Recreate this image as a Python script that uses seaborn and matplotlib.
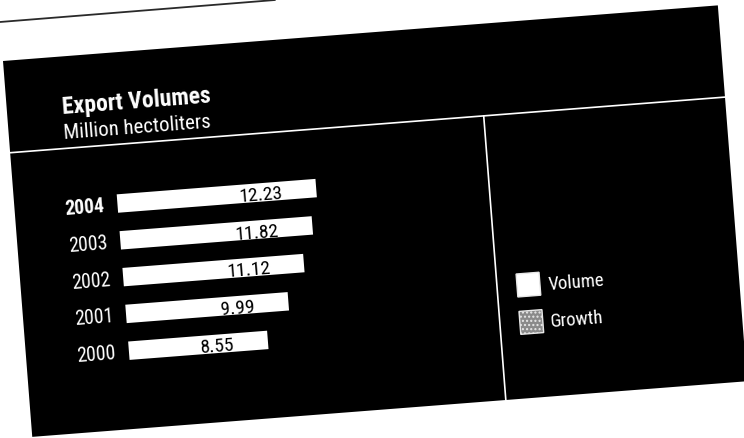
import matplotlib
matplotlib.use("Agg")
import pandas as pd
import matplotlib.pyplot as plt
from matplotlib.patches import Rectangle
from matplotlib.lines import Line2D
from matplotlib.transforms import Affine2D
import seaborn as sns

# data
years = ["2004", "2003", "2002", "2001", "2000"]
volumes = [12.23, 11.82, 11.12, 9.99, 8.55]
legend_labels = ["Volume", "Growth"]
legend_colors = ["white", "#8a8a8a"]
title = "Export Volumes"
subtitle = "Million hectoliters"

sns.set_theme(style="white")
plt.rcParams["font.family"] = ["Roboto Condensed", "Liberation Sans Narrow", "Roboto", "DejaVu Sans"]

W, H, DPI = 744, 438, 100
TILT = 4.45            # the page was scanned a bit crooked
X0, Y0 = 3, 377        # top-left corner of the black panel (pixels, y up)
PANEL_W, PANEL_H = 717, 377
BAR_U0, UNIT = 103, 16.3        # zero of the bars, pixels per million hl
ROW_V0, ROW_STEP = 151, 36.9    # centre of first row, row spacing

fig = plt.figure(figsize=(W / DPI, H / DPI), dpi=DPI, facecolor="white")
rot = Affine2D().rotate_deg_around(X0, Y0, TILT)


def px(u, v):
    # panel coords (from top-left corner, v going down) -> unrotated pixels
    return X0 + u, Y0 - v


def label(u, v, s, **kw):
    x, y = px(u, v)
    fig.text(x, y, s, transform=rot, rotation=TILT, rotation_mode="anchor",
             color="white", **kw)


# paper edge at the top of the scan
fig.add_artist(Line2D([0, 275 / W], [(H - 22) / H, 1.0], color="#2a2a2a", lw=1.3))

# black panel + divider lines
fig.add_artist(Rectangle(px(0, PANEL_H), PANEL_W, PANEL_H, transform=rot,
                         facecolor="black", edgecolor="none", zorder=-5))
xa, ya = px(0, 92)
xb, yb = px(PANEL_W, 92)
fig.add_artist(Line2D([xa, xb], [ya, yb], transform=rot, color="white", lw=1.2, zorder=-4))
xa, ya = px(475, 92)
xb, yb = px(475, PANEL_H)
fig.add_artist(Line2D([xa, xb], [ya, yb], transform=rot, color="white", lw=1.2, zorder=-4))

label(55, 57, title, fontsize=17, fontweight="bold", ha="left", va="baseline")
label(55, 82.5, subtitle, fontsize=15, ha="left", va="baseline")

# bars
df = pd.DataFrame({"year": years, "volume": volumes})
left = (X0 + BAR_U0) / W
bottom = (Y0 - (ROW_V0 + 4.5 * ROW_STEP)) / H
ax = fig.add_axes([left, bottom, 20 * UNIT / W, 5 * ROW_STEP / H])
sns.barplot(data=df, x="volume", y="year", orient="h", order=years, color="white",
            width=0.5, linewidth=0, errorbar=None, saturation=1, ax=ax)
ax.set_xlim(0, 20)
ax.set_ylim(4.5, -0.5)
ax.axis("off")

tr = ax.transData + rot
for bar in ax.patches:
    bar.set_transform(tr)
    bar.set_clip_on(False)

for i, (yr, val) in enumerate(zip(years, volumes)):
    ax.text(-13 / UNIT, i + 0.2, yr, transform=tr, rotation=TILT, rotation_mode="anchor",
            ha="right", va="baseline", color="white", fontsize=14.2,
            fontweight="bold" if i == 0 else "normal", clip_on=False)
    ax.text(val - 34 / UNIT, i + 0.22, f"{val:.2f}", transform=tr, rotation=TILT,
            rotation_mode="anchor", ha="right", va="baseline", color="black",
            fontsize=14, clip_on=False)

# legend
for k, (name, col) in enumerate(zip(legend_labels, legend_colors)):
    vc = 263.7 + k * 37.5
    fig.add_artist(Rectangle(px(495, vc + 11.5), 23, 23, transform=rot,
                             facecolor=col, edgecolor="#e8e8e8", lw=1,
                             hatch="...." if k == 1 else None))
    label(526, vc + 7, name, fontsize=13.5, ha="left", va="baseline")

fig.savefig("out.png", dpi=DPI, facecolor="white")
plt.close(fig)
